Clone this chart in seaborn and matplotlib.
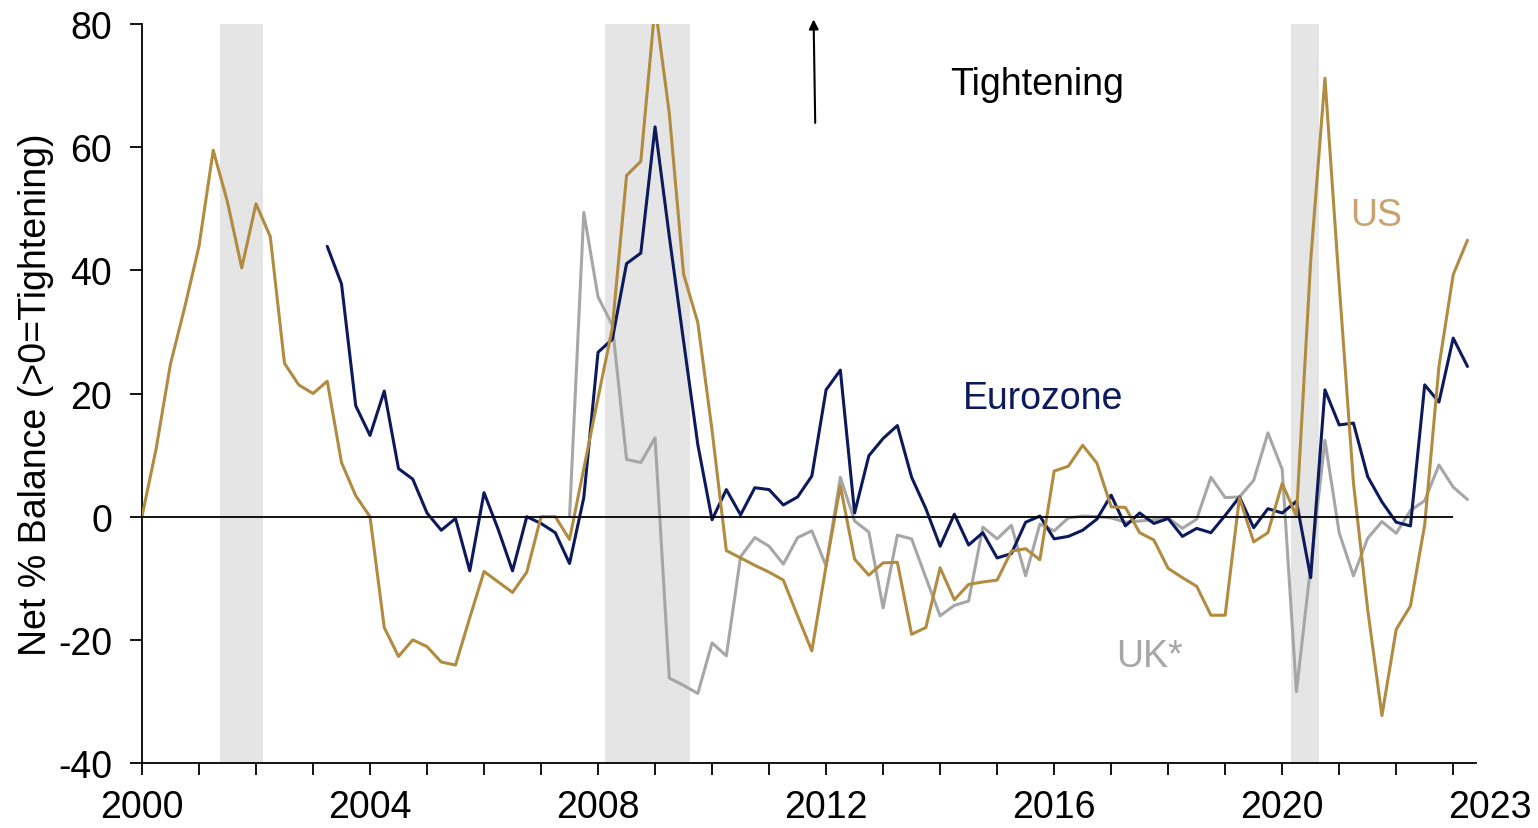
import numpy as np
import pandas as pd
import matplotlib
matplotlib.use("Agg")
import matplotlib.pyplot as plt
import matplotlib.transforms as mtransforms
import seaborn as sns

# quarterly net % balances (>0 = tightening)
us_start = "2000Q1"
us_vals = [0, 11.1, 24.8, 34.0, 43.9, 59.5, 51.1, 40.4, 50.8, 45.5, 24.9, 21.4,
           20.0, 22.0, 8.8, 3.4, 0, -18.0, -22.7, -20.0, -21.1, -23.6, -24.1, -16.4,
           -8.9, -10.6, -12.3, -9.0, 0, 0, -3.7, 7.8, 19.3, 30.6, 55.4, 57.7,
           83.0, 65.5, 39.4, 31.5, 14.0, -5.5, -6.7, -7.9, -9.0, -10.3, -16.1, -21.8,
           -8.0, 5.0, -6.9, -9.5, -7.5, -7.4, -19.1, -18.0, -8.3, -13.5, -11.0, -10.6,
           -10.3, -5.6, -5.2, -7.0, 7.4, 8.2, 11.6, 8.7, 1.6, 1.5, -2.6, -3.8,
           -8.4, -9.9, -11.3, -16.0, -16.0, 3.1, -4.1, -2.6, 5.4, 0.1, 41.6, 71.2,
           37.7, 5.5, -15.1, -32.3, -18.3, -14.5, -1.3, 24.4, 39.3, 44.9]

ez_start = "2003Q2"
ez_vals = [43.9, 37.8, 18.0, 13.2, 20.4, 7.8, 6.1, 0.6, -2.2, -0.3, -8.8, 3.9,
           -2.1, -8.8, 0, -1.1, -2.6, -7.6, 3.1, 26.7, 28.8, 41.1, 42.8, 63.3,
           45.5, 28.5, 11.7, -0.5, 4.4, 0.3, 4.7, 4.4, 1.9, 3.2, 6.6, 20.6,
           23.8, 0.6, 9.9, 12.7, 14.8, 6.4, 1.3, -4.8, 0.4, -4.6, -2.6, -6.7,
           -6.0, -0.9, 0.1, -3.6, -3.2, -2.2, -0.4, 3.5, -1.5, 0.6, -1.1, -0.3,
           -3.2, -1.9, -2.6, 0.2, 3.2, -1.8, 1.3, 0.6, 2.5, -9.9, 20.6, 14.9,
           15.2, 6.5, 2.4, -0.9, -1.5, 21.4, 18.6, 29.0, 24.4]

uk_start = "2007Q3"
uk_vals = [0, 49.4, 35.7, 31.1, 9.3, 8.8, 12.8, -26.2, -27.4, -28.7, -20.5, -22.6,
           -6.5, -3.4, -4.8, -7.7, -3.4, -2.3, -8.0, 6.4, -0.7, -2.5, -14.8, -3.0,
           -3.6, -9.9, -16.1, -14.4, -13.7, -1.7, -3.6, -1.4, -9.6, -1.2, -2.3, -0.2,
           0.1, 0, -0.2, -0.9, -0.7, -0.5, -0.2, -1.9, -0.4, 6.4, 3.1, 3.2,
           5.9, 13.6, 7.7, -28.4, -8.0, 12.4, -2.6, -9.6, -3.5, -0.8, -2.7, 1.0,
           2.6, 8.4, 4.8, 2.8]

recessions = [(2001.37, 2002.12), (2008.13, 2009.62), (2020.16, 2020.65)]

regions = ["UK*", "Eurozone", "US"]
line_colors = {"US": "#b08b40", "Eurozone": "#0c1a5b", "UK*": "#a6a6a6"}
label_colors = {"US": "#c9a26f", "Eurozone": "#0c1a5b", "UK*": "#a6a6a6"}
label_pos = {"US": (2021.65, 49.0), "Eurozone": (2015.81, 19.2), "UK*": (2017.68, -22.6)}


def quarter_years(start, n):
    p = pd.period_range(start, periods=n, freq="Q")
    return p.year + (p.quarter - 1) / 4


frames = []
for name, start, vals in [("US", us_start, us_vals), ("Eurozone", ez_start, ez_vals),
                          ("UK*", uk_start, uk_vals)]:
    frames.append(pd.DataFrame({"year": quarter_years(start, len(vals)),
                                "value": vals, "region": name}))
df = pd.concat(frames, ignore_index=True)

sns.set_style("ticks")
plt.rcParams["font.family"] = ["Liberation Sans", "DejaVu Sans"]
plt.rcParams["axes.unicode_minus"] = False
plt.rcParams["text.color"] = "black"
plt.rcParams["axes.labelcolor"] = "black"
fs = 27

fig, ax = plt.subplots(figsize=(15.38, 8.29), dpi=100)
fig.subplots_adjust(left=0.0923, right=0.9597, top=0.9698, bottom=0.0784)

for a, b in recessions:
    ax.axvspan(a, b, color="#e5e5e5", lw=0, zorder=0)

sns.lineplot(data=df, x="year", y="value", hue="region", hue_order=regions,
             palette=line_colors, linewidth=2.2, legend=False, ax=ax, zorder=3)
ax.hlines(0, 2000, 2023, color="black", lw=1.3, zorder=5)

ax.set_xlim(2000, 2023.4)
ax.set_ylim(-40, 80)
ax.set_yticks(range(-40, 81, 20))
ax.set_xticks(range(2000, 2021, 4))
ax.set_xticks(range(2000, 2024), minor=True)
ax.tick_params(axis="both", which="both", direction="out", length=8.5, width=1.3,
               color="black", labelsize=fs, labelcolor="black")
ax.tick_params(axis="x", which="both", pad=10)
ax.tick_params(axis="y", pad=13)
ax.set_xlabel("")
ax.set_ylabel("Net % Balance (>0=Tightening)", fontsize=fs, labelpad=3)
for s in ["top", "right"]:
    ax.spines[s].set_visible(False)
for s in ["left", "bottom"]:
    ax.spines[s].set_linewidth(1.3)
    ax.spines[s].set_color("black")

# the last year label sits past the axis end
trans = mtransforms.offset_copy(
    mtransforms.blended_transform_factory(ax.transData, ax.transAxes),
    fig=fig, y=-(8.5 + 10), units="points")
ax.text(2023.65, 0, "2023", transform=trans, ha="center", va="top", fontsize=fs,
        clip_on=False)

for name, (x, y) in label_pos.items():
    ax.text(x, y, name, color=label_colors[name], fontsize=fs, ha="center", va="center")

ax.text(2015.7, 70.2, "Tightening", fontsize=fs, ha="center", va="center")
ax.annotate("", xy=(2011.78, 81.2), xytext=(2011.81, 63.5), annotation_clip=False,
            arrowprops=dict(arrowstyle="-|>", color="black", lw=1.5, mutation_scale=14))

fig.savefig("out.png", dpi=100)
